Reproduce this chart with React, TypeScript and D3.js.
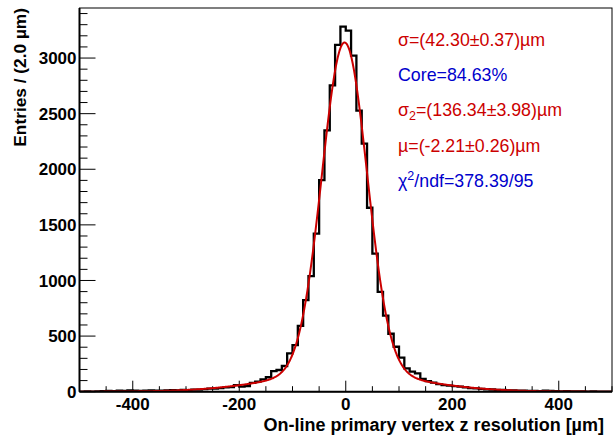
import React from 'react';
import * as d3 from 'd3';

// ---- data ----
const BIN_LOW = -500;
const BIN_WIDTH = 10;
const COUNTS = [
  0, 2, 1, 3, 4, 8, 6, 10, 8, 11,
  9, 8, 9, 12, 10, 9, 12, 14, 12, 17,
  15, 19, 18, 23, 27, 27, 33, 38, 42, 60,
  45, 50, 80, 90, 110, 130, 185, 195, 231, 344,
  419, 592, 823, 1040, 1421, 1902, 2350, 2754, 3119, 3283,
  3247, 3022, 2528, 2230, 1654, 1241, 897, 684, 521, 404,
  307, 210, 180, 165, 116, 95, 81, 69, 60, 54,
  50, 45, 40, 33, 30, 26, 22, 20, 17, 16,
  12, 12, 9, 10, 7, 8, 5, 9, 7, 5,
  3, 4, 2, 3, 2, 1, 2, 1, 1, 0,
];
const X_TICKS = [-400, -200, 0, 200, 400];
const Y_TICKS = [0, 500, 1000, 1500, 2000, 2500, 3000];
const FIT_SIGMA1 = 42.3;
const FIT_CORE = 0.8463;
const FIT_SIGMA2 = 136.34;
const FIT_MU = -2.21;
const FIT_ENTRIES = 37240;

// ---- layout ----
const W = 613, H = 437;
const L = 79.5, R = 612, T = 8, B = 391.7;
const FONT = '"Liberation Sans", Arial, Helvetica, sans-serif';
const RED = '#cc0000';
const BLUE = '#0000cc';

export default function App() {
  const x = d3.scaleLinear().domain([-500, 500]).range([L, R]);
  const y = d3.scaleLinear().domain([0, 3450]).range([B, T]);

  const edges = d3.range(COUNTS.length + 1).map(i => BIN_LOW + i * BIN_WIDTH);
  const stepPts: [number, number][] = COUNTS.map((c, i) => [edges[i], c]);
  stepPts.push([edges[edges.length - 1], COUNTS[COUNTS.length - 1]]);
  const histPath = d3.line<[number, number]>()
    .x(d => x(d[0])).y(d => y(d[1]))
    .curve(d3.curveStepAfter)(stepPts) || '';

  const g = (v: number, s: number) => Math.exp(-0.5 * ((v - FIT_MU) / s) ** 2) / (s * Math.sqrt(2 * Math.PI));
  const fitF = (v: number) => FIT_ENTRIES * BIN_WIDTH * (FIT_CORE * g(v, FIT_SIGMA1) + (1 - FIT_CORE) * g(v, FIT_SIGMA2));
  const fitPath = d3.line<number>()
    .x(v => x(v)).y(v => y(fitF(v)))
    .curve(d3.curveLinear)(d3.range(-500, 500.01, 1)) || '';

  const xMinor = d3.range(-500, 500.01, 50);
  const yMinor = d3.range(0, 3401, 100);

  return (
    <svg width={W} height={H} style={{ position: 'absolute', left: 0, top: 0, background: '#fff' }}
      fontFamily={FONT}>
      <rect x={0} y={0} width={W} height={H} fill="#fff" />
      <clipPath id="plot"><rect x={L} y={T} width={R - L} height={B - T} /></clipPath>

      {/* y ticks */}
      {yMinor.map(v => (
        <line key={'ym' + v} x1={L} x2={L + (v % 500 === 0 ? 16 : 8)} y1={y(v)} y2={y(v)} stroke="#000" strokeWidth={1} />
      ))}
      {/* x ticks */}
      {xMinor.map(v => (
        <line key={'xm' + v} x1={x(v)} x2={x(v)} y1={B} y2={B - (v % 200 === 0 ? 11 : 5.5)} stroke="#000" strokeWidth={1} />
      ))}

      <g clipPath="url(#plot)">
        <path d={histPath} fill="none" stroke="#000" strokeWidth={2.3} />
        <path d={fitPath} fill="none" stroke={RED} strokeWidth={2} />
      </g>

      {/* frame */}
      <rect x={L} y={T} width={R - L} height={B - T} fill="none" stroke="#000" strokeWidth={1} />
      <line x1={L} x2={L} y1={T} y2={B} stroke="#000" strokeWidth={2} />
      <line x1={L} x2={R} y1={B} y2={B} stroke="#000" strokeWidth={2} />

      {/* tick labels */}
      {Y_TICKS.map(v => (
        <text key={'yl' + v} x={L - 3} y={y(v)} dy="0.36em" textAnchor="end" fontSize={17} fontWeight="bold">{v}</text>
      ))}
      {X_TICKS.map(v => (
        <text key={'xl' + v} x={x(v)} y={409.5} textAnchor="middle" fontSize={17} fontWeight="bold">{v}</text>
      ))}

      {/* axis titles */}
      <text x={R - 8} y={431} textAnchor="end" fontSize={18} fontWeight="bold">On-line primary vertex z resolution [µm]</text>
      <text transform={`translate(26,${T}) rotate(-90)`} textAnchor="end" fontSize={17.3} fontWeight="bold">Entries / (2.0 µm)</text>

      {/* fit results */}
      <g fontSize={17.8}>
        <text x={398} y={45.5} fill={RED}>σ=(42.30±0.37)µm</text>
        <text x={398} y={81} fill={BLUE}>Core=84.63%</text>
        <text x={398} y={116} fill={RED}>σ<tspan fontSize={12.5} dy={4}>2</tspan><tspan dy={-4}>=(136.34±3.98)µm</tspan></text>
        <text x={398} y={151.5} fill={RED}>µ=(-2.21±0.26)µm</text>
        <text x={398} y={187} fill={BLUE}>χ<tspan fontSize={12.5} dy={-7}>2</tspan><tspan dy={7}>/ndf=378.39/95</tspan></text>
      </g>
    </svg>
  );
}
